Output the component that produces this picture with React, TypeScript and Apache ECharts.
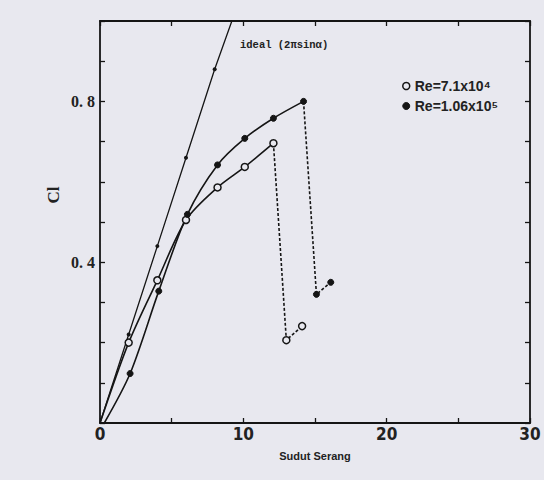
import React, { useEffect, useRef } from "react";
import * as echarts from "echarts";

const BG = "#e8e8ef";
const INK = "#151515";

// ideal line (2π sin α)
const idealX = [0, 2, 4, 6, 8, 9.2];
const idealY = [0, 0.22, 0.44, 0.66, 0.88, 1.0];

// Re = 7.1x10^4 (open circles)
const openX = [0, 2, 4, 6, 8.2, 10.1, 12.1];
const openY = [0, 0.2, 0.355, 0.505, 0.586, 0.637, 0.696];
const openStallX = [12.1, 13.0, 14.1];
const openStallY = [0.696, 0.206, 0.241];

// Re = 1.06x10^5 (filled circles)
const fillX = [0.3, 2.1, 4.1, 6.1, 8.2, 10.1, 12.1, 14.2];
const fillY = [0, 0.123, 0.328, 0.519, 0.642, 0.708, 0.758, 0.8];
const fillStallX = [14.2, 15.1, 16.1];
const fillStallY = [0.8, 0.32, 0.35];

const xTickLabels = ["0", "10", "20", "30"];
const yTickLabels = ["0. 4", "0. 8"];

const NAME_OPEN = "Re=7.1x10⁴";
const NAME_FILL = "Re=1.06x10⁵";

const zip = (xs: number[], ys: number[]) => xs.map((x, i) => [x, ys[i]]);

export default function App() {
  const ref = useRef<HTMLDivElement>(null);
  useEffect(() => {
    if (!ref.current) return;
    const chart = echarts.init(ref.current, null, { renderer: "svg" });
    const openStyle = { color: BG, borderColor: INK, borderWidth: 1.5 };
    const fillStyle = { color: INK, borderColor: INK, borderWidth: 1 };
    const noFirst = (pts: number[][]) =>
      pts.map((p, i) => (i === 0 ? { value: p, symbol: "none" } : { value: p }));
    const idealData = zip(idealX, idealY).map((p, i, a) =>
      i === 0 || i === a.length - 1 ? { value: p, symbol: "none" } : { value: p }
    );
    const commonX = {
      type: "value",
      min: 0,
      max: 30,
      interval: 5,
      splitLine: { show: false },
      axisLine: { show: true, onZero: false, lineStyle: { color: INK, width: 1.8 } },
      axisTick: { show: true, inside: true, length: 5, lineStyle: { color: INK, width: 1.3 } },
    };
    const commonY = {
      type: "value",
      min: 0,
      max: 1,
      interval: 0.1,
      splitLine: { show: false },
      axisLine: { show: true, onZero: false, lineStyle: { color: INK, width: 1.8 } },
      axisTick: { show: true, inside: true, length: 5, lineStyle: { color: INK, width: 1.3 } },
    };
    chart.setOption({
      animation: false,
      backgroundColor: BG,
      grid: { left: 100, right: 14, top: 21, bottom: 57 },
      legend: {
        orient: "vertical",
        left: 397,
        top: 74,
        itemGap: 6,
        itemWidth: 7,
        itemHeight: 7,
        textStyle: {
          fontFamily: "Liberation Sans, Arial, sans-serif",
          fontWeight: "bold",
          fontSize: 14,
          color: "#222",
        },
        data: [
          { name: NAME_OPEN, icon: "circle", itemStyle: openStyle },
          { name: NAME_FILL, icon: "circle", itemStyle: fillStyle },
        ],
      },
      graphic: [
        {
          type: "text",
          left: 240,
          top: 39,
          style: {
            text: "ideal (2πsinα)",
            font: "bold 10.5px 'Liberation Mono', 'DejaVu Sans Mono', monospace",
            fill: "#222",
          },
        },
        {
          type: "text",
          x: 53,
          y: 195,
          rotation: Math.PI / 2,
          style: {
            text: "Cl",
            font: "bold 17px 'Liberation Serif', 'DejaVu Serif', serif",
            fill: "#222",
            align: "center",
            verticalAlign: "middle",
          },
        },
      ],
      xAxis: [
        {
          ...commonX,
          position: "bottom",
          name: "Sudut Serang",
          nameLocation: "middle",
          nameGap: 27,
          nameTextStyle: {
            fontFamily: "Liberation Sans, Arial, sans-serif",
            fontWeight: "bold",
            fontSize: 11,
            color: "#222",
          },
          axisLabel: {
            margin: 2,
            fontFamily: "'DejaVu Sans Condensed', 'Liberation Sans', sans-serif",
            fontWeight: "bold",
            fontSize: 17,
            color: "#222",
            formatter: (v: number) => (v % 10 === 0 ? xTickLabels[v / 10] : ""),
          },
        },
        { ...commonX, position: "top", axisLabel: { show: false } },
      ],
      yAxis: [
        {
          ...commonY,
          position: "left",
          axisLabel: {
            margin: 5,
            fontFamily: "'Liberation Serif', 'DejaVu Serif', serif",
            fontWeight: "bold",
            fontSize: 16,
            color: "#222",
            formatter: (v: number) => {
              const r = Math.round(v * 10);
              if (r === 4) return yTickLabels[0];
              if (r === 8) return yTickLabels[1];
              return "";
            },
          },
        },
        { ...commonY, position: "right", axisLabel: { show: false } },
      ],
      series: [
        {
          name: "ideal",
          type: "line",
          data: idealData,
          symbol: "circle",
          symbolSize: 4,
          itemStyle: { color: INK },
          lineStyle: { color: INK, width: 1.3 },
          z: 2,
        },
        {
          name: NAME_OPEN,
          type: "line",
          smooth: 0.3,
          data: noFirst(zip(openX, openY)),
          symbol: "circle",
          symbolSize: 7,
          itemStyle: openStyle,
          lineStyle: { color: INK, width: 1.6 },
          z: 4,
        },
        {
          name: "open-stall",
          type: "line",
          data: noFirst(zip(openStallX, openStallY)),
          symbol: "circle",
          symbolSize: 7,
          itemStyle: openStyle,
          lineStyle: { color: INK, width: 1.6, type: [3, 2] },
          z: 3,
        },
        {
          name: NAME_FILL,
          type: "line",
          smooth: 0.3,
          data: noFirst(zip(fillX, fillY)),
          symbol: "circle",
          symbolSize: 6,
          itemStyle: fillStyle,
          lineStyle: { color: INK, width: 1.6 },
          z: 4,
        },
        {
          name: "fill-stall",
          type: "line",
          data: noFirst(zip(fillStallX, fillStallY)),
          symbol: "circle",
          symbolSize: 6,
          itemStyle: fillStyle,
          lineStyle: { color: INK, width: 1.6, type: [3, 2] },
          z: 3,
        },
      ],
    });
    return () => chart.dispose();
  }, []);
  return (
    <div
      ref={ref}
      style={{ position: "fixed", left: 0, top: 0, width: 544, height: 480, background: BG }}
    />
  );
}
